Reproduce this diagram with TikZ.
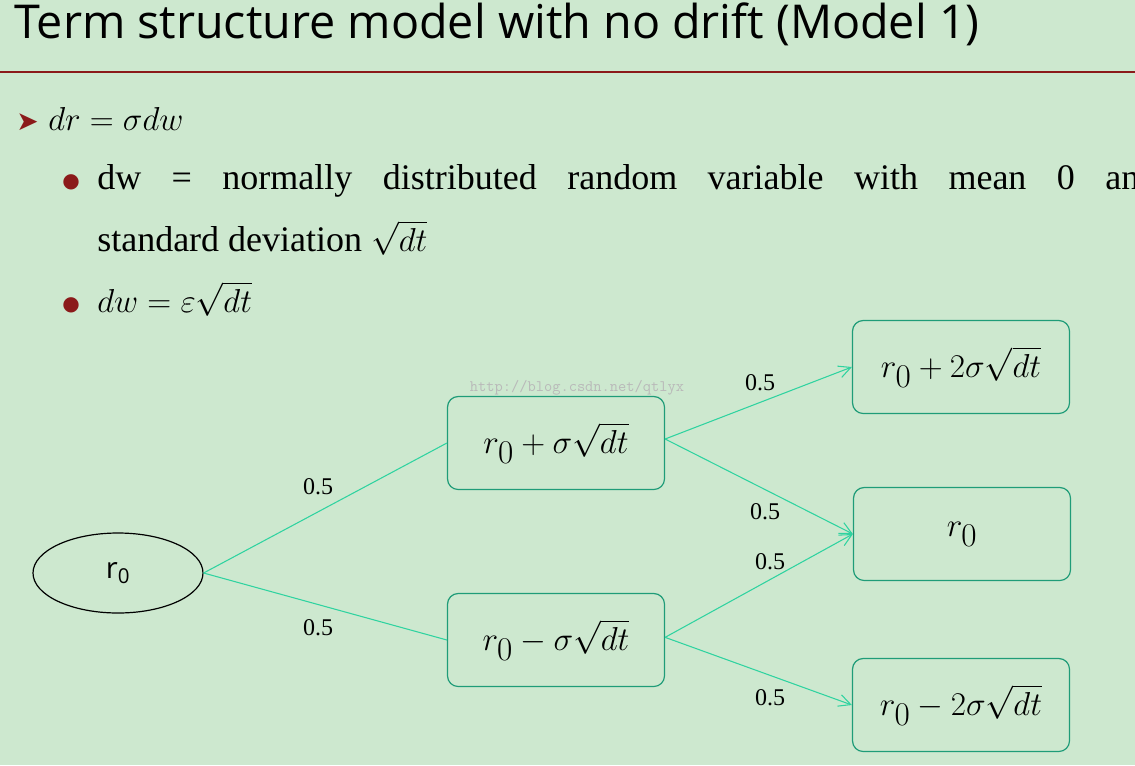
\documentclass[tikz,border=0pt]{standalone}
\usepackage{fontspec}
\setmainfont{Liberation Serif}
\setsansfont{Open Sans}
\usetikzlibrary{arrows.meta,shapes.geometric}
\definecolor{bg}{HTML}{CDE8CF}
\definecolor{dred}{HTML}{8B1A1A}
\definecolor{tealb}{HTML}{1F9C78}
\definecolor{tealc}{HTML}{2FD3A0}
\tikzset{
 box/.style={draw=tealb,rounded corners=8pt,minimum width=162.75pt,minimum height=69.75pt,font=\fontsize{34}{34}\selectfont,line width=0.9pt},
 conn/.style={draw=tealc,line width=0.8pt},
 arr/.style={conn,-{Straight Barb[length=9pt,width=9pt]}},
 prob/.style={font=\fontsize{18}{18}\selectfont},
 body/.style={font=\fontsize{27}{27}\selectfont,anchor=base west,inner sep=0pt},
 bul/.style={font=\fontspec{DejaVu Sans}\fontsize{15}{15}\selectfont,anchor=base west,inner sep=0pt,text=dred}
}
\begin{document}
\begin{tikzpicture}[x=0.75pt,y=-0.75pt]
\useasboundingbox (0,0) rectangle (1135,765);
\clip (0,0) rectangle (1135,765);
\fill[bg] (0,0) rectangle (1135,765);
\node[anchor=base west,inner sep=0pt,font=\sffamily\fontsize{35}{35}\selectfont] (title) at (14,38) {Term structure model with no drift (Model 1)};
\draw[dred,line width=1.5pt] (0,72) -- (1135,72);
\node[bul,font=\fontspec{DejaVu Sans}\fontsize{20}{20}\selectfont] (b1) at (16,130) {➤};
\node[body] (l1) at (48,130) {$dr=\sigma dw$};
\node[bul] (b2) at (62,187) {●};
\node[body] (l2) at (97,189) {\makebox[795pt][s]{dw = normally distributed random variable with mean 0 and}};
\node[body] (l3) at (97,251) {standard deviation $\sqrt{dt}$};
\node[bul] (b3) at (62,310) {●};
\node[body] (l4) at (97,312) {$dw=\varepsilon\sqrt{dt}$};
\node[text=gray!55,font=\ttfamily\fontsize{12}{12}\selectfont] (wm) at (577,388) {http://blog.csdn.net/qtlyx};
\node[draw,ellipse,minimum width=127.5pt,minimum height=60pt,line width=0.9pt,font=\sffamily\fontsize{22}{22}\selectfont] (e) at (118,573) {r\textsubscript{0}};
\node[box] (u) at (556,443) {$r_0+\sigma\sqrt{dt}$};
\node[box] (d) at (556,640) {$r_0-\sigma\sqrt{dt}$};
\node[box] (uu) at (961,367) {$r_0+2\sigma\sqrt{dt}$};
\node[box] (m) at (962,534) {$r_0$};
\node[box] (dd) at (961,705) {$r_0-2\sigma\sqrt{dt}$};
\coordinate (ue) at ([yshift=3pt]u.east);
\coordinate (de) at ([yshift=2pt]d.east);
\draw[conn] (e.east) -- (u.west);
\draw[conn] (e.east) -- (d.west);
\draw[arr] (ue) -- (uu.west);
\draw[arr] (ue) -- (m.west);
\draw[arr] (de) -- (m.west);
\draw[arr] (de) -- (dd.west);
\node[prob] (p1) at (318,487) {0.5};
\node[prob] (p2) at (318,628) {0.5};
\node[prob] (p3) at (760,383) {0.5};
\node[prob] (p4) at (765,512) {0.5};
\node[prob] (p5) at (770,562) {0.5};
\node[prob] (p6) at (770,698) {0.5};
\end{tikzpicture}
\end{document}
